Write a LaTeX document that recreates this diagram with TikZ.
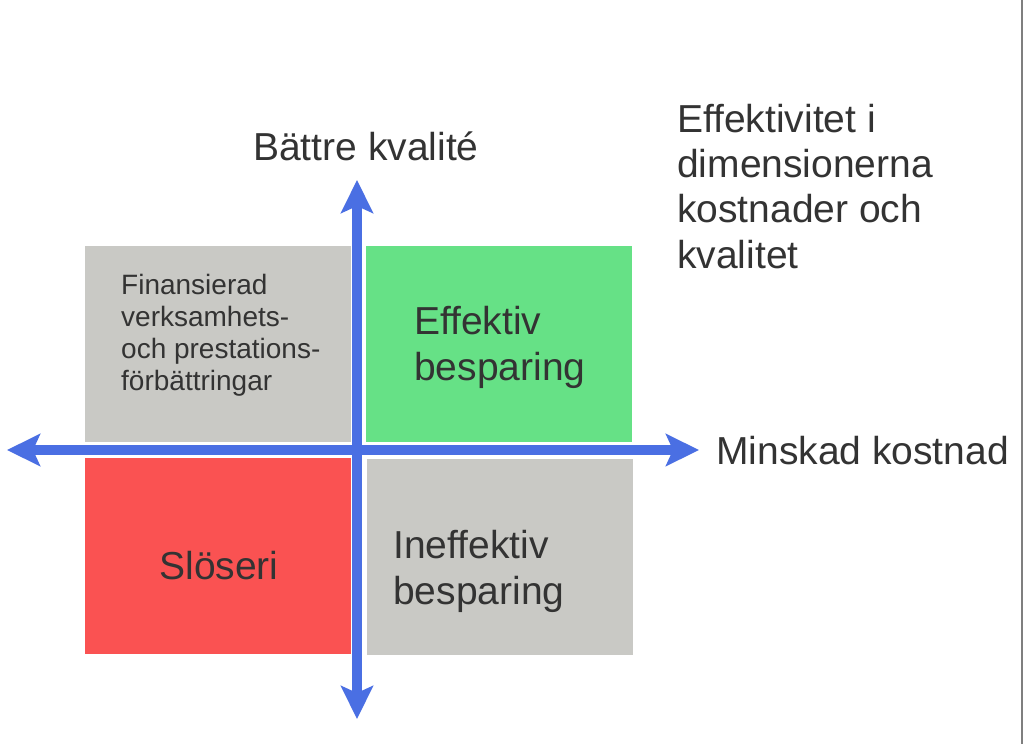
\documentclass[tikz,border=0pt]{standalone}
\usepackage{fontspec}
\setmainfont{Liberation Sans}
\usetikzlibrary{arrows.meta}
\definecolor{qblue}{HTML}{4A6FE3}
\definecolor{qgray}{HTML}{C9C9C5}
\definecolor{qgreen}{HTML}{66E186}
\definecolor{qred}{HTML}{FA5252}
\definecolor{qtext}{HTML}{333333}
\definecolor{qframe}{HTML}{7F7F7F}

\begin{document}
\begin{tikzpicture}[
    x=1pt, y=-1pt,
    quad/.style={
        inner sep=0, minimum width=266pt, minimum height=196pt
    },
    plain/.style={ quad, fill=qgray },
    good/.style={ quad, fill=qgreen },
    bad/.style={ quad, fill=qred },
    big/.style={
        font=\fontsize{39}{45.3}\selectfont, text=qtext,
        inner sep=0, align=left
    },
    small/.style={ big, font=\fontsize{28}{31.7}\selectfont },
    axis/.style={
        draw=qblue, line width=10pt,
        >={Stealth[length=33pt, width=32pt, inset=7pt]}, <->
    },
]
\fill[white] (0,0) rectangle (1024,744);
\useasboundingbox (0,0) rectangle (1024,744);

% ---- the four quadrants ----
\node[plain] (funded) at (217.5,344) {};
\node[good]  (gain)   at (498.5,344) {};
\node[bad]   (waste)  at (218,556)   {};
\node[plain] (loss)   at (500,556.5) {};

% ---- texts in the quadrants (base = last line) ----
\node[small, anchor=base west] (fundedtxt) at (121,390)
    {Finansierad\\verksamhets-\\och prestations-\\förbättringar};
\node[big, anchor=base west] (gaintxt) at (414,380) {Effektiv\\besparing};
\node[big, anchor=base] (wastetxt) at (219,579) {Slöseri};
\node[big, anchor=base west] (losstxt) at (393,604) {Ineffektiv\\besparing};

% ---- axes ----
\coordinate (ytop) at (357,180);
\coordinate (ybot) at (357,719);
\coordinate (xleft) at (7,450);
\coordinate (xright) at (699,450);
\draw[axis] (xleft) -- (xright);
\draw[axis] (ybot) -- (ytop);

% ---- axis titles and note ----
\node[big, anchor=base] (ytitle) at (366,160) {Bättre kvalité};
\node[big, anchor=base west] (xtitle) at (716,464) {Minskad kostnad};
\node[big, anchor=base west] (note) at (677,268)
    {Effektivitet i\\dimensionerna\\kostnader och\\kvalitet};

% ---- frame at the right ----
\draw[qframe, line width=2pt] (1022,0) -- (1022,744);

\end{tikzpicture}
\end{document}
